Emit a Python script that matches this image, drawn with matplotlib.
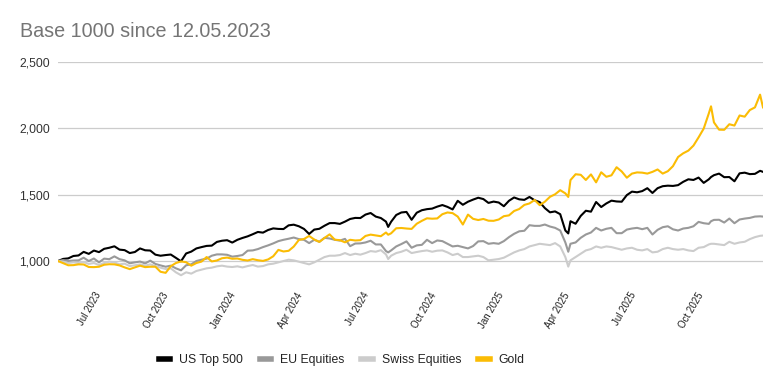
import pandas as pd
import matplotlib
matplotlib.use("Agg")
import matplotlib.pyplot as plt
import matplotlib.dates as mdates
from matplotlib.ticker import FuncFormatter
from matplotlib.lines import Line2D

plt.rcParams['font.family'] = ['Liberation Sans', 'DejaVu Sans']

# weekly fridays + a few extra days (spikes / dips)
weeks = pd.date_range('2023-05-12', '2025-12-26', freq='7D')
extra = pd.to_datetime(['2024-08-05', '2025-04-08', '2025-10-20', '2025-12-30'])
dates = weeks.append(extra).sort_values()

us_top500 = [
    # 2023
    1000, 1016, 1020, 1038, 1042, 1069, 1054, 1079, 1067, 1092, 1100, 1111, 1086, 1082, 1060, 1068, 1095,
    1081, 1079, 1048, 1040, 1045, 1049, 1024, 998, 1057, 1071, 1095, 1105, 1114, 1116, 1144, 1153, 1157,
    # 2024
    1139, 1160, 1174, 1186, 1202, 1219, 1214, 1234, 1246, 1242, 1241, 1269, 1274, 1262, 1242, 1204, 1237,
    1243, 1266, 1286, 1286, 1280, 1297, 1317, 1325, 1324, 1350, 1362, 1335, 1324, 1297, 1257, 1296, 1347,
    1366, 1370, 1311, 1364, 1383, 1391, 1395, 1410, 1422, 1408, 1389, 1454, 1424, 1447, 1463, 1477, 1467,
    1438, 1448,
    # 2025
    1441, 1413, 1454, 1479, 1465, 1461, 1483, 1458, 1444, 1399, 1367, 1374, 1353, 1230, 1208, 1300, 1281,
    1340, 1379, 1372, 1445, 1407, 1434, 1455, 1449, 1447, 1497, 1523, 1518, 1527, 1549, 1513, 1549, 1564,
    1568, 1566, 1572, 1597, 1616, 1611, 1629, 1589, 1616, 1633, 1647, 1659, 1632, 1633, 1601, 1661, 1666,
    1655, 1657, 1680, 1672,
]

eu_equities = [
    # 2023
    1000, 1007, 1000, 1004, 1005, 1025, 1000, 1019, 990, 1018, 1014, 1035, 1014, 1005, 983, 990, 996,
    982, 1003, 978, 967, 957, 965, 945, 930, 968, 975, 1000, 1010, 1018, 1040, 1050, 1050, 1047,
    # 2024
    1033, 1038, 1045, 1078, 1080, 1090, 1105, 1118, 1133, 1150, 1160, 1168, 1177, 1165, 1160, 1135, 1160,
    1145, 1175, 1170, 1160, 1154, 1167, 1112, 1132, 1133, 1140, 1153, 1125, 1125, 1075, 1065, 1080, 1110,
    1128, 1148, 1100, 1118, 1122, 1160, 1135, 1155, 1150, 1130, 1110, 1115, 1105, 1095, 1113, 1148, 1150,
    1130, 1135,
    # 2025
    1130, 1150, 1180, 1205, 1224, 1228, 1270, 1265, 1265, 1275, 1260, 1250, 1230, 1140, 1070, 1130, 1140,
    1175, 1200, 1215, 1250, 1230, 1243, 1250, 1210, 1210, 1237, 1245, 1250, 1240, 1250, 1200, 1235, 1255,
    1262, 1239, 1230, 1245, 1250, 1262, 1295, 1285, 1280, 1300, 1310, 1311, 1290, 1320, 1285, 1313, 1320,
    1325, 1335, 1337, 1335,
]

swiss_equities = [
    # 2023
    1000, 995, 985, 990, 985, 992, 978, 985, 970, 985, 995, 990, 975, 980, 962, 968, 975,
    965, 975, 962, 950, 940, 945, 915, 893, 915, 905, 925, 935, 945, 950, 960, 965, 958,
    # 2024
    955, 960, 952, 962, 970, 958, 962, 975, 980, 990, 1000, 1010, 1005, 995, 985, 975, 990,
    1010, 1030, 1040, 1040, 1045, 1060, 1045, 1055, 1048, 1060, 1075, 1070, 1082, 1050, 1015, 1040, 1060,
    1070, 1085, 1060, 1068, 1075, 1080, 1070, 1078, 1080, 1065, 1045, 1055, 1030, 1030, 1035, 1040, 1030,
    1005, 1010,
    # 2025
    1015, 1025, 1045, 1065, 1080, 1090, 1110, 1120, 1130, 1125, 1120, 1135, 1110, 1030, 958, 1005, 1030,
    1055, 1080, 1090, 1110, 1100, 1110, 1105, 1095, 1085, 1095, 1100, 1085, 1080, 1090, 1065, 1070, 1090,
    1100, 1090, 1085, 1090, 1080, 1075, 1100, 1105, 1125, 1130, 1130, 1125, 1120, 1145, 1130, 1140, 1145,
    1165, 1180, 1190, 1192,
]

gold = [
    # 2023
    1000, 984, 968, 969, 975, 974, 955, 954, 957, 972, 976, 975, 967, 952, 939, 952, 965,
    954, 957, 957, 919, 911, 961, 985, 997, 991, 965, 985, 996, 1030, 997, 1004, 1021, 1026,
    # 2024
    1017, 1019, 1009, 1004, 1014, 1006, 1001, 1012, 1036, 1084, 1072, 1077, 1109, 1159, 1166, 1189, 1162,
    1144, 1174, 1201, 1161, 1157, 1141, 1160, 1155, 1157, 1189, 1199, 1193, 1187, 1215, 1198, 1209, 1247,
    1249, 1245, 1242, 1281, 1303, 1322, 1319, 1321, 1353, 1366, 1361, 1335, 1275, 1350, 1318, 1309, 1317,
    1304, 1303,
    # 2025
    1313, 1338, 1344, 1377, 1392, 1423, 1434, 1460, 1421, 1447, 1484, 1503, 1534, 1510, 1483, 1610, 1654,
    1650, 1611, 1653, 1593, 1669, 1635, 1646, 1707, 1675, 1628, 1659, 1668, 1666, 1659, 1672, 1690, 1659,
    1677, 1715, 1784, 1812, 1832, 1870, 1932, 1998, 2113, 2166, 2045, 1990, 1989, 2031, 2021, 2097, 2088,
    2138, 2158, 2254, 2158,
]

series = ['US Top 500', 'EU Equities', 'Swiss Equities', 'Gold']
colors = ['#000000', '#999999', '#cccccc', '#fbbc04']
values = [us_top500, eu_equities, swiss_equities, gold]

fig = plt.figure(figsize=(7.82, 3.74), dpi=100)
ax = fig.add_axes([0.0742, 0.2524, 0.9015, 0.5818])

for name, col, vals in zip(series, colors, values):
    ax.plot(dates, vals, color=col, lw=1.5, label=name, solid_joinstyle='round')

ax.set_xlim(dates[0], dates[-1])
ax.set_ylim(860, 2500)
ax.set_yticks([1000, 1500, 2000, 2500])
ax.yaxis.set_major_formatter(FuncFormatter(lambda v, p: f'{v:,.0f}'))
ax.grid(axis='y', color='#cccccc', lw=0.9)
ax.set_axisbelow(True)
for s in ax.spines.values():
    s.set_visible(False)
ax.tick_params(axis='y', length=0, pad=6, labelsize=8.7, labelcolor='#333333')

ax.xaxis.set_major_locator(mdates.MonthLocator(bymonth=[1, 4, 7, 10]))
ax.xaxis.set_major_formatter(mdates.DateFormatter('%b %Y'))
ax.tick_params(axis='x', length=0, pad=8, labelsize=7, labelcolor='#222222')
for lab in ax.get_xticklabels():
    lab.set_rotation(60)
    lab.set_ha('right')
    lab.set_rotation_mode('anchor')

fig.text(20 / 782, 1 - 37 / 374, 'Base 1000 since 12.05.2023', fontsize=14.2,
         color='#757575', va='baseline')

handles = [Line2D([0], [0], color=c, lw=4) for c in colors]
fig.legend(handles, series, loc='center', bbox_to_anchor=(341.5 / 782, 1 - 360 / 374),
           ncol=4, frameon=False, fontsize=8.8, handlelength=0.95, handletextpad=0.7,
           columnspacing=1.4, labelcolor='#222222')

fig.savefig('out.png', dpi=100)
